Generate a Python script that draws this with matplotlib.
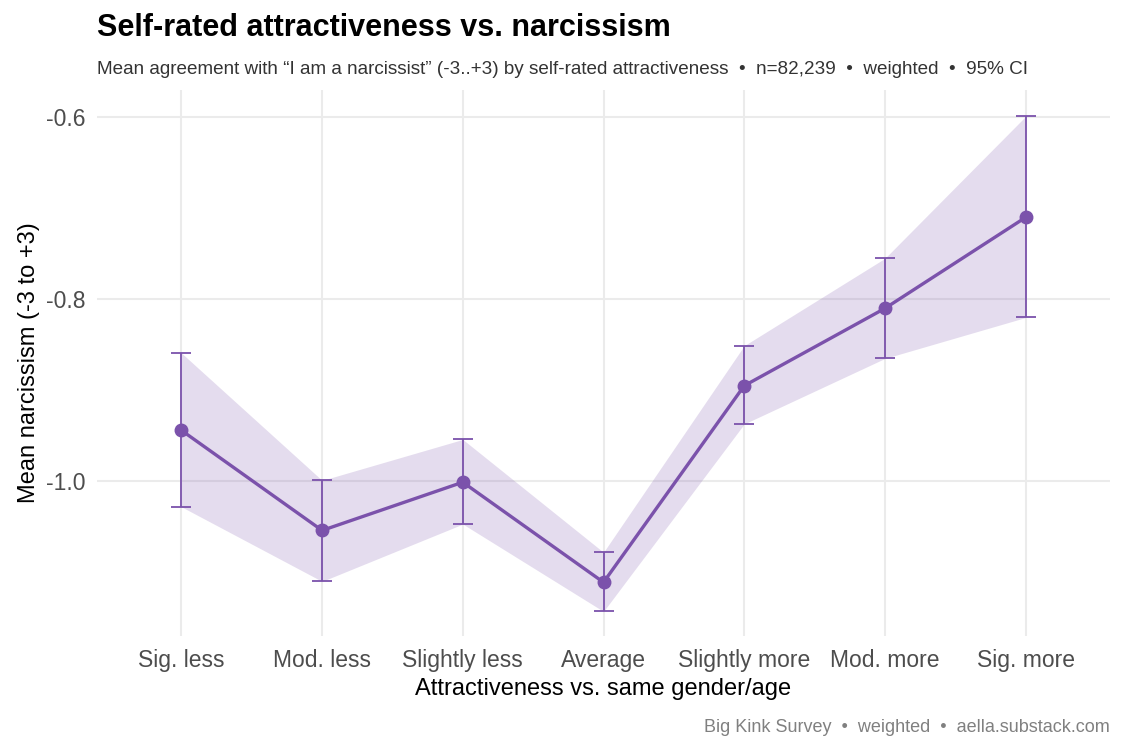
import matplotlib
matplotlib.use("Agg")
import matplotlib.pyplot as plt
import numpy as np

categories = ["Sig. less", "Mod. less", "Slightly less", "Average",
              "Slightly more", "Mod. more", "Sig. more"]
means = [-0.944, -1.054, -1.001, -1.111, -0.895, -0.810, -0.710]
ci_low = [-1.028, -1.110, -1.047, -1.143, -0.937, -0.865, -0.820]
ci_high = [-0.859, -0.999, -0.954, -1.078, -0.851, -0.755, -0.599]
yticks = [-0.6, -0.8, -1.0]
ytick_labels = ["-0.6", "-0.8", "-1.0"]

plt.rcParams['font.family'] = ['Liberation Sans', 'DejaVu Sans']

color = "#7B52AB"
fig = plt.figure(figsize=(11.25, 7.5), dpi=100)
ax = fig.add_axes([97/1125, 114/750, (1110-97)/1125, (636-90)/750])

x = np.arange(len(categories))
ax.fill_between(x, ci_low, ci_high, color=color, alpha=0.2, linewidth=0, zorder=2)
ax.errorbar(x, means, yerr=[np.array(means) - np.array(ci_low), np.array(ci_high) - np.array(means)],
            fmt='none', ecolor=color, elinewidth=1.3, capsize=7.5, capthick=1.3, zorder=3)
ax.plot(x, means, color=color, linewidth=2.4, zorder=4)
ax.plot(x, means, 'o', color=color, markersize=9, zorder=5)

ax.set_xlim(-0.6, len(categories) - 0.4)
ax.set_ylim(-1.170, -0.570)
ax.set_xticks(x)
ax.set_xticklabels(categories, va='baseline')
ax.set_yticks(yticks)
ax.set_yticklabels(ytick_labels)
ax.tick_params(axis='x', length=0, labelsize=16.5, labelcolor="#4D4D4D", pad=22.3)
ax.tick_params(axis='y', length=0, labelsize=16.5, labelcolor="#4D4D4D", pad=8)
ax.grid(True, color="#EBEBEB", linewidth=1.5, zorder=0)
ax.set_axisbelow(True)
for s in ax.spines.values():
    s.set_visible(False)

ax.set_xlabel("Attractiveness vs. same gender/age", fontsize=17, color="black", labelpad=4)
ax.set_ylabel("Mean narcissism (-3 to +3)", fontsize=17, color="black", labelpad=4.5)

fig.text(97/1125, 1 - 28/750, "Self-rated attractiveness vs. narcissism",
         fontsize=22, fontweight='bold', va='center', ha='left', color="black")
fig.text(97/1125, 1 - 70/750,
         "Mean agreement with \u201cI am a narcissist\u201d (-3..+3) by self-rated attractiveness  \u2022  n=82,239  \u2022  weighted  \u2022  95% CI",
         fontsize=13.6, va='center', ha='left', color="#333333")
fig.text(1110/1125, 1 - 727/750, "Big Kink Survey  \u2022  weighted  \u2022  aella.substack.com",
         fontsize=13, va='center', ha='right', color="#808080")

fig.savefig("out.png", dpi=100)
